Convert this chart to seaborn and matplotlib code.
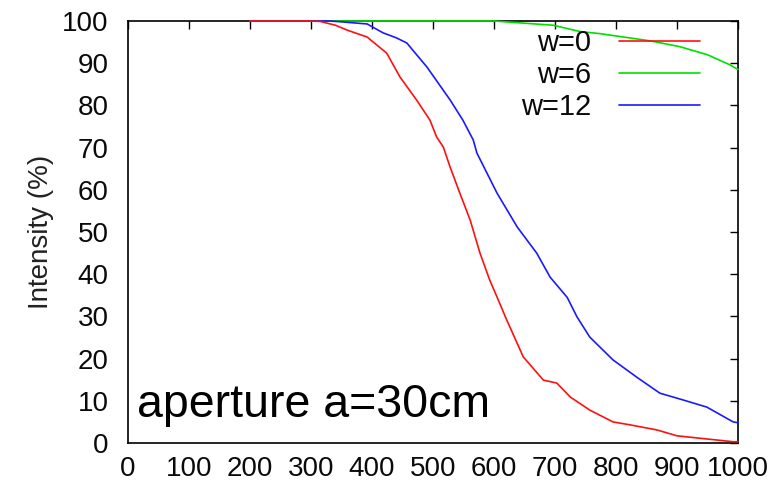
import matplotlib
matplotlib.use("Agg")
import matplotlib.pyplot as plt
import seaborn as sns
import pandas as pd

# ---- data ----
x_w0 = [200, 300, 315, 340, 360, 392, 424, 446, 473, 495, 506, 517, 528, 544, 561, 577,
        593, 607, 621, 626, 648, 681, 703, 725, 757, 795, 823, 867, 900, 933, 992, 1000]
y_w0 = [100, 100, 99.9, 99.0, 97.8, 96.2, 92.4, 86.7, 81.3, 76.5, 72.5, 70.1, 65.4, 59.2, 52.8, 45.0,
        38.6, 33.9, 29.1, 27.5, 20.4, 14.9, 14.2, 10.9, 7.8, 5.0, 4.3, 3.1, 1.7, 1.2, 0.3, 0.3]

x_w6 = [200, 600, 638, 697, 741, 774, 851, 867, 905, 950, 987, 1000]
y_w6 = [100, 100, 99.6, 99.0, 97.5, 97.0, 95.4, 95.0, 93.9, 92.0, 89.6, 88.5]

x_w12 = [200, 330, 350, 392, 418, 440, 457, 490, 528, 549, 566, 572, 605, 638, 670, 692,
         720, 736, 757, 795, 834, 872, 910, 949, 992, 1000]
y_w12 = [100, 100, 99.8, 99.3, 97.2, 96.0, 94.8, 89.1, 81.3, 76.5, 71.8, 68.7, 59.2, 51.2, 45.0, 39.3,
         34.5, 29.9, 25.1, 19.7, 15.6, 11.8, 10.2, 8.5, 5.0, 4.8]

series_labels = ["w=0", "w=6", "w=12"]
series_colors = ["#ff1010", "#00e000", "#1a1aff"]
x_ticks = [0, 100, 200, 300, 400, 500, 600, 700, 800, 900, 1000]
y_ticks = [0, 10, 20, 30, 40, 50, 60, 70, 80, 90, 100]
y_label = "Intensity (%)"
annotation = "aperture a=30cm"

frames = []
for lab, xs, ys in zip(series_labels, [x_w0, x_w6, x_w12], [y_w0, y_w6, y_w12]):
    frames.append(pd.DataFrame({"x": xs, "y": ys, "series": lab}))
df = pd.concat(frames, ignore_index=True)

sns.set_theme(style="white")
plt.rcParams["font.family"] = ["Liberation Sans", "DejaVu Sans"]

fig = plt.figure(figsize=(7.84, 4.88), dpi=100)
ax = fig.add_axes([128 / 784, 45 / 488, 610 / 784, 422 / 488])

sns.lineplot(data=df, x="x", y="y", hue="series", hue_order=series_labels,
             palette=dict(zip(series_labels, series_colors)), estimator=None,
             sort=False, linewidth=1.2, ax=ax, legend=False)

line_z = [5, 3, 4]  # red on top, then blue, green underneath
for ln, z in zip(ax.get_lines(), line_z):
    ln.set_zorder(z)
    ln.set_clip_on(False)

ax.set_xlim(0, 1000)
ax.set_ylim(0, 100)
ax.set_xticks(x_ticks)
ax.set_yticks(y_ticks)
ax.set_xticklabels([str(v) for v in x_ticks])
ax.set_yticklabels([str(v) for v in y_ticks])
ax.set_xlabel("")
ax.set_ylabel(y_label, fontsize=20, color="#222222", labelpad=6)

for s in ax.spines.values():
    s.set_visible(True)
    s.set_color("black")
    s.set_linewidth(1.2)
    s.set_zorder(2)

ax.tick_params(axis="both", which="both", direction="in", length=6, width=1.0,
               color="black", top=True, right=True, labelsize=20, labelcolor="#0a0a0a")
ax.tick_params(axis="y", pad=14)
ax.tick_params(axis="x", pad=9)
ax.grid(False)

handles = ax.get_lines()[:3]
leg = ax.legend(handles, series_labels, loc="upper right",
                bbox_to_anchor=(0.938, 0.98), frameon=False, markerfirst=False,
                fontsize=21, handlelength=2.8, handletextpad=0.95, labelspacing=0.13,
                borderaxespad=0, borderpad=0)
for t in leg.get_texts():
    t.set_color("#0a0a0a")
    t.set_ha("right")

ax.text(15, 6.2, annotation, fontsize=33.5, color="black", va="baseline", ha="left")

fig.savefig("out.png", dpi=100)
